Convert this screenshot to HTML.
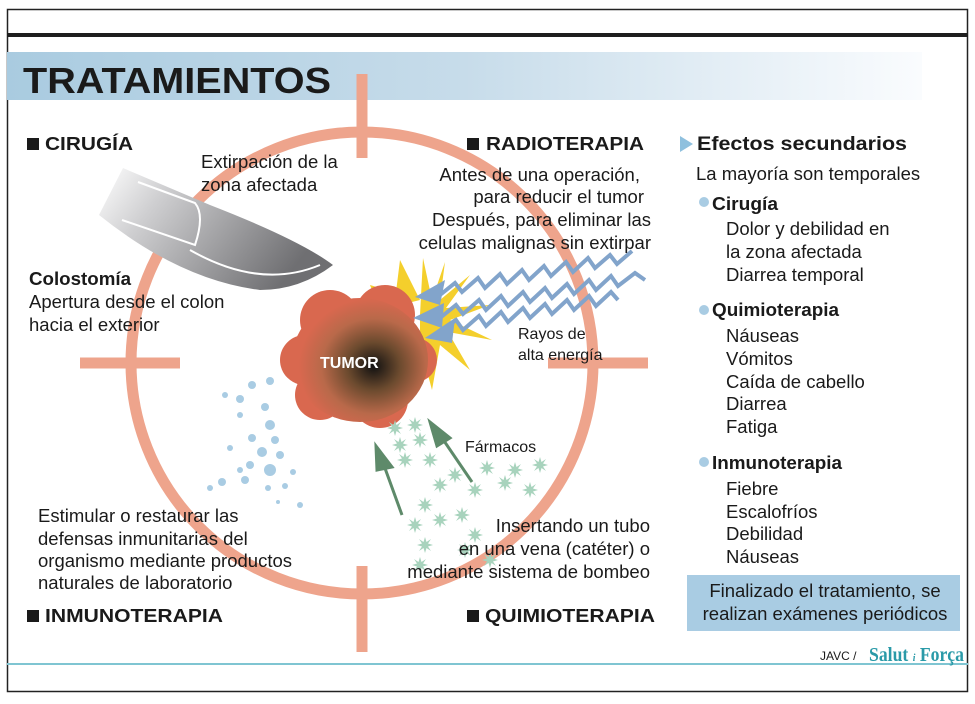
<!DOCTYPE html>
<html><head><meta charset="utf-8"><style>
body{margin:0;background:#fff}
svg{display:block}
text{font-family:"Liberation Sans",Arial,sans-serif;fill:#1a1a1a}
.b{font-weight:bold}
</style></head><body>
<svg width="975" height="704" viewBox="0 0 975 704" xmlns="http://www.w3.org/2000/svg">
<defs>
<linearGradient id="band" x1="0" x2="1"><stop offset="0" stop-color="#a9cbe0"/><stop offset="0.5" stop-color="#c7dcea"/><stop offset="1" stop-color="#fafcfe"/></linearGradient>
<linearGradient id="knife" x1="0" y1="0" x2="1" y2="0.4"><stop offset="0" stop-color="#fff"/><stop offset="0.3" stop-color="#cfcfd1"/><stop offset="1" stop-color="#6f6f72"/></linearGradient>
<radialGradient id="tum" cx="0.6" cy="0.55" r="0.55"><stop offset="0" stop-color="#111"/><stop offset="0.35" stop-color="#6b4a2e"/><stop offset="0.7" stop-color="#b9694a"/><stop offset="1" stop-color="#d9684f"/></radialGradient>
<g id="st"><path d="M0,-8 L1.5,-3 6,-6 3,-1.5 8,0 3,1.5 6,6 1.5,3 0,8 -1.5,3 -6,6 -3,1.5 -8,0 -3,-1.5 -6,-6 -1.5,-3Z" fill="#a8d3bd"/></g>
</defs>
<rect x="7.5" y="9.5" width="960" height="682" fill="none" stroke="#222" stroke-width="1.5"/>
<rect x="7" y="33" width="961" height="4" fill="#1e1e1e"/>
<rect x="7" y="52" width="915" height="48" fill="url(#band)"/>
<text x="23" y="93" class="b" font-size="36" textLength="308" lengthAdjust="spacingAndGlyphs">TRATAMIENTOS</text>

<g stroke="#eea48c" stroke-width="11" fill="none">
<circle cx="362" cy="363" r="231"/>
<line x1="362" y1="74" x2="362" y2="158"/>
<line x1="362" y1="566" x2="362" y2="652"/>
<line x1="80" y1="363" x2="180" y2="363"/>
<line x1="548" y1="363" x2="648" y2="363"/>
</g>

<path d="M123,168 L210,205 Q300,240 333,265 Q300,290 260,290 Q180,280 99,215 Z" fill="url(#knife)"/>
<path d="M138,182 L195,203 Q205,215 195,245 L122,220" fill="none" stroke="#fff" stroke-width="2"/>
<path d="M190,250 Q260,290 320,265" fill="none" stroke="#fff" stroke-width="2"/>

<path d="M420,315 L423,258 L432,300 L445,262 L440,300 L470,275 L446,308 L490,305 L450,320 L492,340 L448,332 L470,370 L440,345 L432,390 L420,345 Z" fill="#f4cf2c"/>
<path d="M370,285 L420,300 L380,310Z M400,260 L420,300 L395,300Z" fill="#f4cf2c"/>
<g fill="#d9684f">
<circle cx="330" cy="320" r="30"/><circle cx="385" cy="315" r="30"/><circle cx="305" cy="360" r="25"/><circle cx="320" cy="395" r="25"/><circle cx="380" cy="400" r="28"/><circle cx="415" cy="360" r="22"/>
</g>
<ellipse cx="360" cy="360" rx="68" ry="62" fill="url(#tum)"/>
<text x="320" y="368" class="b" font-size="16" style="fill:#fff">TUMOR</text>

<g fill="none" stroke="#82a4cb" stroke-width="4">
<polyline points="440,295 455,283 462,292 478,278 485,288 500,274 507,284 522,270 529,280 544,266 551,276 566,262 573,272 588,258 595,268 610,255 617,264 632,251"/>
<polyline points="440,318 456,305 463,314 479,300 486,310 501,296 508,306 523,292 530,302 545,288 552,298 567,284 574,294 589,280 596,290 611,276 618,286 635,273 645,280"/>
<polyline points="440,333 456,320 463,330 479,316 486,326 501,312 508,322 523,308 530,318 545,304 552,314 567,300 574,310 589,296 596,306 611,292 618,300"/>
</g>
<g fill="#82a4cb">
<path d="M415,297 L445,280 L440,305Z"/><path d="M413,318 L444,303 L442,328Z"/><path d="M425,338 L455,318 L452,343Z"/>
</g>

<g fill="#a9cce3">
<circle cx="270" cy="381" r="4"/><circle cx="252" cy="385" r="4"/><circle cx="240" cy="399" r="4"/><circle cx="265" cy="407" r="4"/><circle cx="225" cy="395" r="3"/><circle cx="240" cy="415" r="3"/><circle cx="270" cy="425" r="5"/><circle cx="275" cy="440" r="4"/><circle cx="252" cy="438" r="4"/><circle cx="230" cy="448" r="3"/><circle cx="262" cy="452" r="5"/><circle cx="280" cy="455" r="4"/><circle cx="250" cy="465" r="4"/><circle cx="270" cy="470" r="6"/><circle cx="293" cy="472" r="3"/><circle cx="240" cy="470" r="3"/><circle cx="222" cy="482" r="4"/><circle cx="245" cy="480" r="4"/><circle cx="268" cy="488" r="3"/><circle cx="285" cy="486" r="3"/><circle cx="210" cy="488" r="3"/><circle cx="300" cy="505" r="3"/><circle cx="278" cy="502" r="2"/>
</g>
<g>
<use href="#st" x="395" y="428"/><use href="#st" x="415" y="425"/><use href="#st" x="420" y="440"/><use href="#st" x="400" y="445"/><use href="#st" x="405" y="460"/><use href="#st" x="430" y="460"/><use href="#st" x="440" y="485"/><use href="#st" x="455" y="475"/><use href="#st" x="475" y="490"/><use href="#st" x="487" y="468"/><use href="#st" x="505" y="483"/><use href="#st" x="515" y="470"/><use href="#st" x="530" y="490"/><use href="#st" x="540" y="465"/><use href="#st" x="425" y="505"/><use href="#st" x="440" y="520"/><use href="#st" x="462" y="515"/><use href="#st" x="475" y="535"/><use href="#st" x="415" y="525"/><use href="#st" x="425" y="545"/><use href="#st" x="465" y="550"/><use href="#st" x="490" y="560"/><use href="#st" x="420" y="565"/>
</g>
<g stroke="#5e8a6a" stroke-width="3" fill="#5e8a6a">
<line x1="402" y1="515" x2="382" y2="460"/><path d="M376,446 L392,467 L377,470Z"/>
<line x1="472" y1="482" x2="440" y2="435"/><path d="M430,422 L450,438 L437,446Z"/>
</g>

<g font-size="18.5">
<rect x="27" y="138" width="12" height="12" fill="#1a1a1a"/><text x="45" y="150" class="b" font-size="18" textLength="88" lengthAdjust="spacingAndGlyphs">CIRUGÍA</text>
<text x="201" y="168">Extirpación de la</text><text x="201" y="191">zona afectada</text>
<rect x="467" y="138" width="12" height="12" fill="#1a1a1a"/><text x="486" y="150" class="b" font-size="18" textLength="158" lengthAdjust="spacingAndGlyphs">RADIOTERAPIA</text>
<g text-anchor="end"><text x="640" y="181">Antes de una operación,</text><text x="644" y="203">para reducir el tumor</text><text x="651" y="226">Después, para eliminar las</text><text x="651" y="249">celulas malignas sin extirpar</text></g>
<text x="29" y="285" class="b" textLength="102" lengthAdjust="spacingAndGlyphs">Colostomía</text><text x="29" y="308">Apertura desde el colon</text><text x="29" y="331">hacia el exterior</text>
<text x="518" y="339" font-size="16">Rayos de</text><text x="518" y="360" font-size="16">alta energía</text>
<text x="465" y="452" font-size="16">Fármacos</text>
<g text-anchor="end"><text x="650" y="532">Insertando un tubo</text><text x="650" y="555">en una vena (catéter) o</text><text x="650" y="578">mediante sistema de bombeo</text></g>
<text x="38" y="522">Estimular o restaurar las</text><text x="38" y="545">defensas inmunitarias del</text><text x="38" y="567">organismo mediante productos</text><text x="38" y="589">naturales de laboratorio</text>
<rect x="27" y="610" width="12" height="12" fill="#1a1a1a"/><text x="45" y="622" class="b" font-size="18" textLength="178" lengthAdjust="spacingAndGlyphs">INMUNOTERAPIA</text>
<rect x="467" y="610" width="12" height="12" fill="#1a1a1a"/><text x="485" y="622" class="b" font-size="18" textLength="170" lengthAdjust="spacingAndGlyphs">QUIMIOTERAPIA</text>

<path d="M680,136 L693,144 L680,152Z" fill="#8fc0de"/>
<text x="697" y="150" class="b" font-size="19" textLength="210" lengthAdjust="spacingAndGlyphs">Efectos secundarios</text>
<text x="696" y="180">La mayoría son temporales</text>
<circle cx="704" cy="202" r="5" fill="#a9cce3"/><text x="712" y="210" class="b" textLength="66" lengthAdjust="spacingAndGlyphs">Cirugía</text>
<text x="726" y="235">Dolor y debilidad en</text><text x="726" y="258">la zona afectada</text><text x="726" y="281">Diarrea temporal</text>
<circle cx="704" cy="310" r="5" fill="#a9cce3"/><text x="712" y="316" class="b" textLength="127" lengthAdjust="spacingAndGlyphs">Quimioterapia</text>
<text x="726" y="342">Náuseas</text><text x="726" y="365">Vómitos</text><text x="726" y="388">Caída de cabello</text><text x="726" y="410">Diarrea</text><text x="726" y="433">Fatiga</text>
<circle cx="704" cy="462" r="5" fill="#a9cce3"/><text x="712" y="469" class="b" textLength="130" lengthAdjust="spacingAndGlyphs">Inmunoterapia</text>
<text x="726" y="495">Fiebre</text><text x="726" y="518">Escalofríos</text><text x="726" y="540">Debilidad</text><text x="726" y="563">Náuseas</text>
<rect x="687" y="575" width="273" height="56" fill="#a9cce3"/>
<text x="825" y="597" text-anchor="middle">Finalizado el tratamiento, se</text>
<text x="825" y="620" text-anchor="middle">realizan exámenes periódicos</text>
</g>
<rect x="7" y="663" width="961" height="2" fill="#7fc5d2"/>
<text x="820" y="660" font-size="12">JAVC /</text>
<text x="869" y="661" font-size="20" font-weight="bold" style="font-family:'Liberation Serif',serif;fill:#2a9aa8" textLength="95" lengthAdjust="spacingAndGlyphs">Salut <tspan font-size="11" font-style="italic">i</tspan> Força</text>
</svg>
</body></html>
